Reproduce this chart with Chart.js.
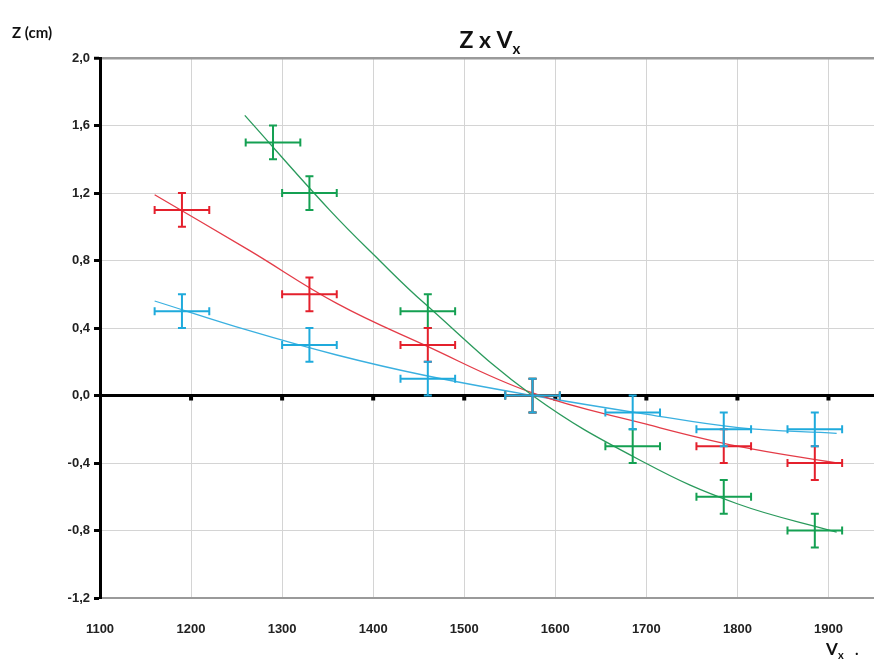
<!DOCTYPE html>
<html>
<head>
<meta charset="utf-8">
<script src="https://cdn.jsdelivr.net/npm/chart.js@4.4.1/dist/chart.umd.min.js"></script>
<style>
  body { margin: 0; background: #fff; }
  canvas { display: block; }
</style>
</head>
<body>
<canvas id="grafico_z" width="874" height="663"></canvas>
<script>
// pontos medidos (Vx, Z)
var verde_vx = [1290, 1330, 1460, 1575, 1685, 1785, 1885];
var verde_z = [1.5, 1.2, 0.5, 0.0, -0.3, -0.6, -0.8];
var vermelho_vx = [1190, 1330, 1460, 1575, 1785, 1885];
var vermelho_z = [1.1, 0.6, 0.3, 0.0, -0.3, -0.4];
var azul_vx = [1190, 1330, 1460, 1575, 1685, 1785, 1885];
var azul_z = [0.5, 0.3, 0.1, 0.0, -0.1, -0.2, -0.2];

// incertezas
var erro_vx = 30;
var erro_z = 0.1;

// curvas de ajuste
var ajuste_verde_vx = [1259, 1352, 1407, 1456, 1575, 1699, 1799, 1909];
var ajuste_verde_z = [1.66, 1.10, 0.80, 0.548, 0.0, -0.40, -0.64, -0.81];
var ajuste_vermelho_vx = [1160, 1264, 1360, 1456, 1575, 1700, 1800, 1909];
var ajuste_vermelho_z = [1.19, 0.86, 0.546, 0.30, 0.015, -0.17, -0.30, -0.40];
var ajuste_azul_vx = [1160, 1264, 1360, 1456, 1575, 1699, 1801, 1909];
var ajuste_azul_z = [0.56, 0.384, 0.24, 0.12, 0.0, -0.11, -0.19, -0.224];

// eixos
var x_min = 1100, x_max = 1950;
var x_ticks = [1100, 1200, 1300, 1400, 1500, 1600, 1700, 1800, 1900];
var y_min = -1.2, y_max = 2.0, y_passo = 0.4;

function pares(xs, ys) {
  var out = [];
  for (var i = 0; i < xs.length; i++) {
    out.push({ x: xs[i], y: ys[i] });
  }
  return out;
}

var fundoBranco = {
  id: "fundoBranco",
  beforeDraw(chart) {
    var ctx = chart.ctx;
    ctx.save();
    ctx.fillStyle = "#fff";
    ctx.fillRect(0, 0, chart.width, chart.height);
    ctx.restore();
  },
};

// tracinhos no eixo do zero
var marcasZero = {
  id: "marcasZero",
  beforeDatasetsDraw(chart) {
    var ctx = chart.ctx;
    var xs = chart.scales.x;
    var y0 = chart.scales.y.getPixelForValue(0);
    ctx.save();
    ctx.fillStyle = "#000";
    xs.ticks.forEach(function (t) {
      if (t.value <= x_min) return;
      var px = xs.getPixelForValue(t.value);
      ctx.fillRect(px - 2, y0, 4, 5);
    });
    ctx.restore();
  },
};

var barrasErro = {
  id: "barrasErro",
  afterDatasetsDraw(chart) {
    var ctx = chart.ctx;
    var xs = chart.scales.x;
    var ys = chart.scales.y;
    ctx.save();
    chart.data.datasets.forEach(function (ds) {
      if (!ds.erro) return;
      ctx.strokeStyle = ds.borderColor;
      ctx.lineWidth = 2;
      ds.data.forEach(function (p) {
        var cx = xs.getPixelForValue(p.x);
        var cy = ys.getPixelForValue(p.y);
        var xa = xs.getPixelForValue(p.x - erro_vx);
        var xb = xs.getPixelForValue(p.x + erro_vx);
        var ya = ys.getPixelForValue(p.y - erro_z);
        var yb = ys.getPixelForValue(p.y + erro_z);
        ctx.beginPath();
        ctx.moveTo(xa, cy); ctx.lineTo(xb, cy);
        ctx.moveTo(cx, ya); ctx.lineTo(cx, yb);
        ctx.moveTo(xa, cy - 4); ctx.lineTo(xa, cy + 4);
        ctx.moveTo(xb, cy - 4); ctx.lineTo(xb, cy + 4);
        ctx.moveTo(cx - 4, ya); ctx.lineTo(cx + 4, ya);
        ctx.moveTo(cx - 4, yb); ctx.lineTo(cx + 4, yb);
        ctx.stroke();
      });
    });
    ctx.restore();
  },
};

// titulo e rotulos com subscrito
var textos = {
  id: "textos",
  afterDraw(chart) {
    var ctx = chart.ctx;
    ctx.save();
    ctx.fillStyle = "#111";
    ctx.textBaseline = "alphabetic";

    ctx.font = "bold 23px Lato";
    var t = "Z x V";
    var w = ctx.measureText(t).width;
    var sx = 490 - (w + 8) / 2;
    ctx.fillText(t, sx, 48);
    ctx.font = "bold 15px Lato";
    ctx.fillText("x", sx + w, 54);

    ctx.font = "bold 15px Lato";
    ctx.fillText("Z (cm)", 12, 38);

    ctx.font = "bold 17px Lato";
    ctx.fillText("V", 826, 655);
    ctx.font = "bold 11px Lato";
    ctx.fillText("x", 838, 659);
    ctx.font = "bold 15px Lato";
    ctx.fillText(".", 855, 655);
    ctx.restore();
  },
};

function linha_ajuste(nome, xs, ys, cor) {
  return {
    label: nome,
    data: pares(xs, ys),
    showLine: true,
    borderColor: cor,
    borderWidth: 1.3,
    pointRadius: 0,
    tension: 0.4,
  };
}

function criar_grafico() {
  var cor_verde = "#14a052";
  var cor_vermelho = "#e4202c";
  var cor_azul = "#1faadc";

  new Chart(document.getElementById("grafico_z"), {
    type: "scatter",
    data: {
      datasets: [
        linha_ajuste("ajuste verde", ajuste_verde_vx, ajuste_verde_z, "#2a9a5c"),
        linha_ajuste("ajuste vermelho", ajuste_vermelho_vx, ajuste_vermelho_z, "#e43c48"),
        linha_ajuste("ajuste azul", ajuste_azul_vx, ajuste_azul_z, "#3ab0e0"),
        {
          label: "verde",
          data: pares(verde_vx, verde_z),
          borderColor: cor_verde,
          pointRadius: 0,
          erro: true,
        },
        {
          label: "vermelho",
          data: pares(vermelho_vx, vermelho_z),
          borderColor: cor_vermelho,
          pointRadius: 0,
          erro: true,
        },
        {
          label: "azul",
          data: pares(azul_vx, azul_z),
          borderColor: cor_azul,
          pointRadius: 0,
          erro: true,
        },
      ],
    },
    options: {
      responsive: false,
      animation: false,
      devicePixelRatio: 1,
      layout: { padding: { left: 0, top: 58, right: 0, bottom: 0 } },
      plugins: {
        legend: { display: false },
        tooltip: { enabled: false },
      },
      scales: {
        x: {
          type: "linear",
          min: x_min,
          max: x_max,
          ticks: {
            color: "#222",
            padding: 24,
            maxRotation: 0,
            autoSkip: false,
            font: { family: "Liberation Sans", weight: "bold", size: 13 },
            callback: function (v) {
              return String(v);
            },
          },
          afterBuildTicks: function (scale) {
            scale.ticks = x_ticks.map(function (v) {
              return { value: v };
            });
          },
          afterFit: function (scale) {
            scale.height = 65;
          },
          grid: {
            color: "#d4d4d4",
            lineWidth: 1,
            drawTicks: false,
          },
          border: { color: "#9a9a9a", width: 2 },
        },
        y: {
          type: "linear",
          min: y_min,
          max: y_max,
          ticks: {
            stepSize: y_passo,
            color: "#222",
            padding: 4,
            font: { family: "Liberation Sans", weight: "bold", size: 13 },
            callback: function (v) {
              return v.toFixed(1).replace(".", ",");
            },
          },
          afterFit: function (scale) {
            scale.width = 100;
          },
          grid: {
            color: function (c) {
              if (!c.tick) return "#d4d4d4";
              if (Math.abs(c.tick.value) < 1e-9) return "#000";
              if (Math.abs(c.tick.value - y_max) < 1e-9) return "#9a9a9a";
              return "#d4d4d4";
            },
            lineWidth: function (c) {
              if (!c.tick) return 1;
              if (Math.abs(c.tick.value) < 1e-9) return 3;
              if (Math.abs(c.tick.value - y_max) < 1e-9) return 2.5;
              return 1;
            },
            tickColor: "#000",
            tickLength: 6,
            tickWidth: 3,
          },
          border: { color: "#000", width: 3 },
        },
      },
    },
    plugins: [fundoBranco, marcasZero, barrasErro, textos],
  });
}

criar_grafico();
</script>
</body>
</html>
